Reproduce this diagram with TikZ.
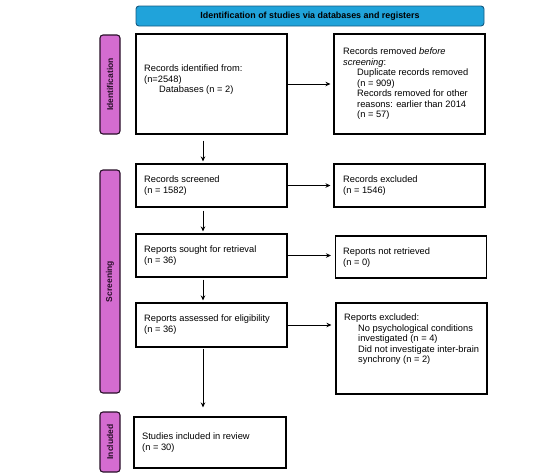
\documentclass[tikz,border=0pt]{standalone}
\usepackage{fontspec}
\setmainfont{Liberation Sans}
\usetikzlibrary{arrows.meta}
\definecolor{banner}{RGB}{32,163,218}
\definecolor{bannerdk}{RGB}{20,90,130}
\definecolor{side}{RGB}{212,108,208}
\definecolor{sidedk}{RGB}{40,15,40}
\begin{document}
\begin{tikzpicture}[x=1pt,y=-1pt,
  box/.style={draw=black,line width=1.1pt},
  sidebox/.style={draw=sidedk,fill=side,rounded corners=3pt,line width=1.1pt},
  txt/.style={anchor=north west,inner sep=0pt,align=left,font=\fontsize{9.3}{10.5}\selectfont},
  sidetxt/.style={rotate=90,font=\bfseries\fontsize{8.5}{10}\selectfont,text=sidedk},
  arr/.style={-{Stealth[length=5pt,width=4.5pt]},line width=0.9pt}]
\useasboundingbox (0,0) rectangle (550,475);
% banner
\draw[fill=banner,draw=bannerdk,rounded corners=3pt,line width=0.9pt] (136,6) rectangle (484,26);
\node[font=\bfseries\fontsize{8.9}{10}\selectfont] (ban) at (310,16) {Identification of studies via databases and registers};
% side labels
\draw[sidebox] (100,35) rectangle (120,134);
\node[sidetxt] (sid) at (110,84.5) {Identification};
\draw[sidebox] (100,170) rectangle (120,393);
\node[sidetxt] (sscr) at (110,281.5) {Screening};
\draw[sidebox] (100,412) rectangle (120,472);
\node[sidetxt] (sinc) at (110,442) {Included};
% boxes
\node[box,minimum width=151pt,minimum height=100pt,inner sep=0pt] (b1) at (211.5,84) {};
\node[txt] (t1) at (144,65) {Records identified from:\\(n=2548)\\\hspace{15pt}Databases (n = 2)};
\node[box,minimum width=151pt,minimum height=100pt,inner sep=0pt] (b2) at (409.5,84) {};
\node[txt] (t2) at (343,48) {Records removed \emph{before}\\\emph{screening}:\\\hspace{14pt}Duplicate records removed\\\hspace{14pt}(n = 909)\\\hspace{14pt}Records removed for other\\\hspace{14pt}reasons: earlier than 2014\\\hspace{14pt}(n = 57)};
\node[box,minimum width=151pt,minimum height=43pt,inner sep=0pt] (b3) at (211.5,185.5) {};
\node[txt] (t3) at (144,176) {Records screened\\(n = 1582)};
\node[box,minimum width=151pt,minimum height=43pt,inner sep=0pt] (b4) at (409.5,185.5) {};
\node[txt] (t4) at (343,176) {Records excluded\\(n = 1546)};
\node[box,minimum width=151pt,minimum height=43pt,inner sep=0pt] (b5) at (211.5,255.5) {};
\node[txt] (t5) at (144,246) {Reports sought for retrieval\\(n = 36)};
\node[box,minimum width=151pt,minimum height=42pt,inner sep=0pt] (b6) at (411,257) {};
\node[txt] (t6) at (343,248) {Reports not retrieved\\(n = 0)};
\node[box,minimum width=151pt,minimum height=44pt,inner sep=0pt] (b7) at (211.5,325) {};
\node[txt] (t7) at (144,315) {Reports assessed for eligibility\\(n = 36)};
\node[box,minimum width=151pt,minimum height=91pt,inner sep=0pt] (b8) at (411.5,348.5) {};
\node[txt] (t8) at (344,314) {Reports excluded:\\\hspace{14pt}No psychological conditions\\\hspace{14pt}investigated (n = 4)\\\hspace{14pt}Did not investigate inter-brain\\\hspace{14pt}synchrony (n = 2)};
\node[box,minimum width=152pt,minimum height=51pt,inner sep=0pt] (b9) at (210,442.5) {};
\node[txt] (t9) at (142,433) {Studies included in review\\(n = 30)};
% arrows
\draw[arr,shorten >=3pt] (b1.east) -- (b2.west);
\draw[arr,shorten >=3pt] (b3.east) -- (b4.west);
\draw[arr,shorten >=4pt] (b5.east) -- (b5.east -| b6.west);
\draw[arr,shorten >=4pt] (b7.east) -- (b7.east -| b8.west);
\draw[arr,shorten <=6pt,shorten >=2pt] (b1.south -| 203,0) -- (b3.north -| 203,0);
\draw[arr,shorten <=3pt,shorten >=2pt] (b3.south -| 203,0) -- (b5.north -| 203,0);
\draw[arr,shorten <=2pt,shorten >=2pt] (b5.south -| 203,0) -- (b7.north -| 203,0);
\draw[arr,shorten <=1pt,shorten >=9pt] (b7.south -| 203,0) -- (b9.north -| 203,0);
\end{tikzpicture}
\end{document}
